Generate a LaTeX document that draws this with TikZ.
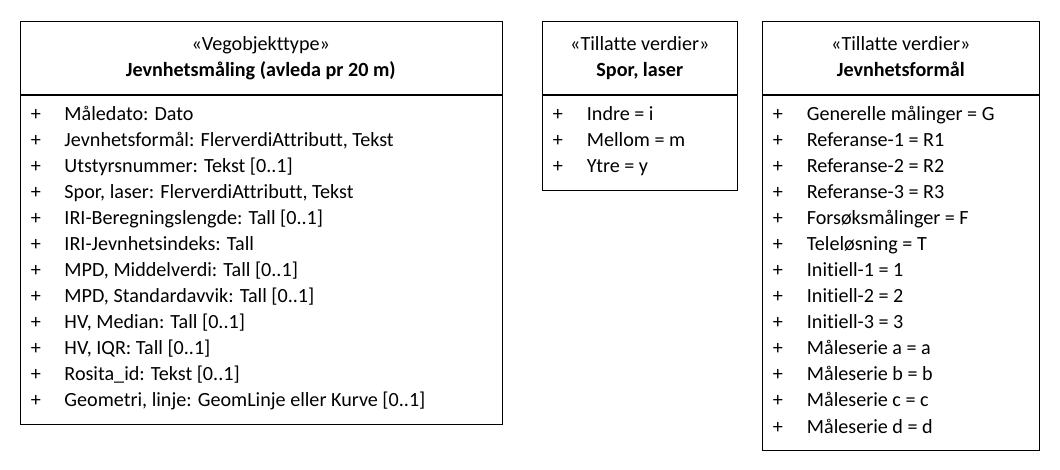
\documentclass[tikz,border=0pt]{standalone}
\usepackage{fontspec}
\setmainfont{Carlito}[Ligatures=NoCommon]
\usetikzlibrary{positioning}

\begin{document}
\begin{tikzpicture}[x=1bp,y=-1bp,
                class box/.style={draw,line width=0.9bp,inner sep=0pt,anchor=north west},
                head text/.style={font=\fontsize{20.2}{24}\selectfont,inner sep=0pt,anchor=base},
                name text/.style={head text,font=\fontsize{20.2}{24}\selectfont\bfseries},
                member/.style={font=\fontsize{20.2}{24}\selectfont,inner sep=0pt,anchor=base west}]

  \useasboundingbox (0,0) rectangle (1060,470);

  % Vegobjekttype
  \node[class box,minimum width=481.5bp,minimum height=73bp] (vegoHead) at (20,21) {};
  \node[class box,minimum width=481.5bp,minimum height=329.3bp,below=0pt of vegoHead.south west,anchor=north west] (vegoBody) {};
  \node[head text] (vegoStereo) at (260.8,50.7) {«Vegobjekttype»};
  \node[name text] (vegoName) at (260.8,76.7) {Jevnhetsmåling (avleda pr 20 m)};
  \foreach \m [count=\i from 0] in {Måledato: Dato,
      {Jevnhetsformål: FlerverdiAttributt, Tekst},
      Utstyrsnummer: Tekst [0..1],
      {Spor, laser: FlerverdiAttributt, Tekst},
      IRI-Beregningslengde: Tall [0..1],
      IRI-Jevnhetsindeks: Tall,
      {MPD, Middelverdi: Tall [0..1]},
      {MPD, Standardavvik: Tall [0..1]},
      {HV, Median: Tall [0..1]},
      {HV, IQR: Tall [0..1]},
      Rosita\_id: Tekst [0..1],
      {Geometri, linje: GeomLinje eller Kurve [0..1]}}
  {
    \node[member] (vegoPlus\i) at (30.7,{121+26*\i}) {+};
    \node[member] (vegoAttr\i) at (64.3,{121+26*\i}) {\m};
  }

  % Spor, laser
  \node[class box,minimum width=195bp,minimum height=73bp] (sporHead) at (542.3,21) {};
  \node[class box,minimum width=195bp,minimum height=95.3bp,below=0pt of sporHead.south west,anchor=north west] (sporBody) {};
  \node[head text] (sporStereo) at (639.8,50.7) {«Tillatte verdier»};
  \node[name text] (sporName) at (639.8,76.7) {Spor, laser};
  \foreach \m [count=\i from 0] in {Indre = i, Mellom = m, Ytre = y}
  {
    \node[member] (sporPlus\i) at (552.7,{121+26*\i}) {+};
    \node[member] (sporVal\i) at (586.7,{121+26*\i}) {\m};
  }

  % Jevnhetsformål
  \node[class box,minimum width=277bp,minimum height=73bp] (formHead) at (762.3,21) {};
  \node[class box,minimum width=277bp,minimum height=355.3bp,below=0pt of formHead.south west,anchor=north west] (formBody) {};
  \node[head text] (formStereo) at (900.8,50.7) {«Tillatte verdier»};
  \node[name text] (formName) at (900.8,76.7) {Jevnhetsformål};
  \foreach \m [count=\i from 0] in {Generelle målinger = G,
      Referanse-1 = R1, Referanse-2 = R2, Referanse-3 = R3,
      Forsøksmålinger = F, Teleløsning = T,
      Initiell-1 = 1, Initiell-2 = 2, Initiell-3 = 3,
      Måleserie a = a, Måleserie b = b, Måleserie c = c, Måleserie d = d}
  {
    \node[member] (formPlus\i) at (772.7,{121+26*\i}) {+};
    \node[member] (formVal\i) at (806.7,{121+26*\i}) {\m};
  }
\end{tikzpicture}
\end{document}
